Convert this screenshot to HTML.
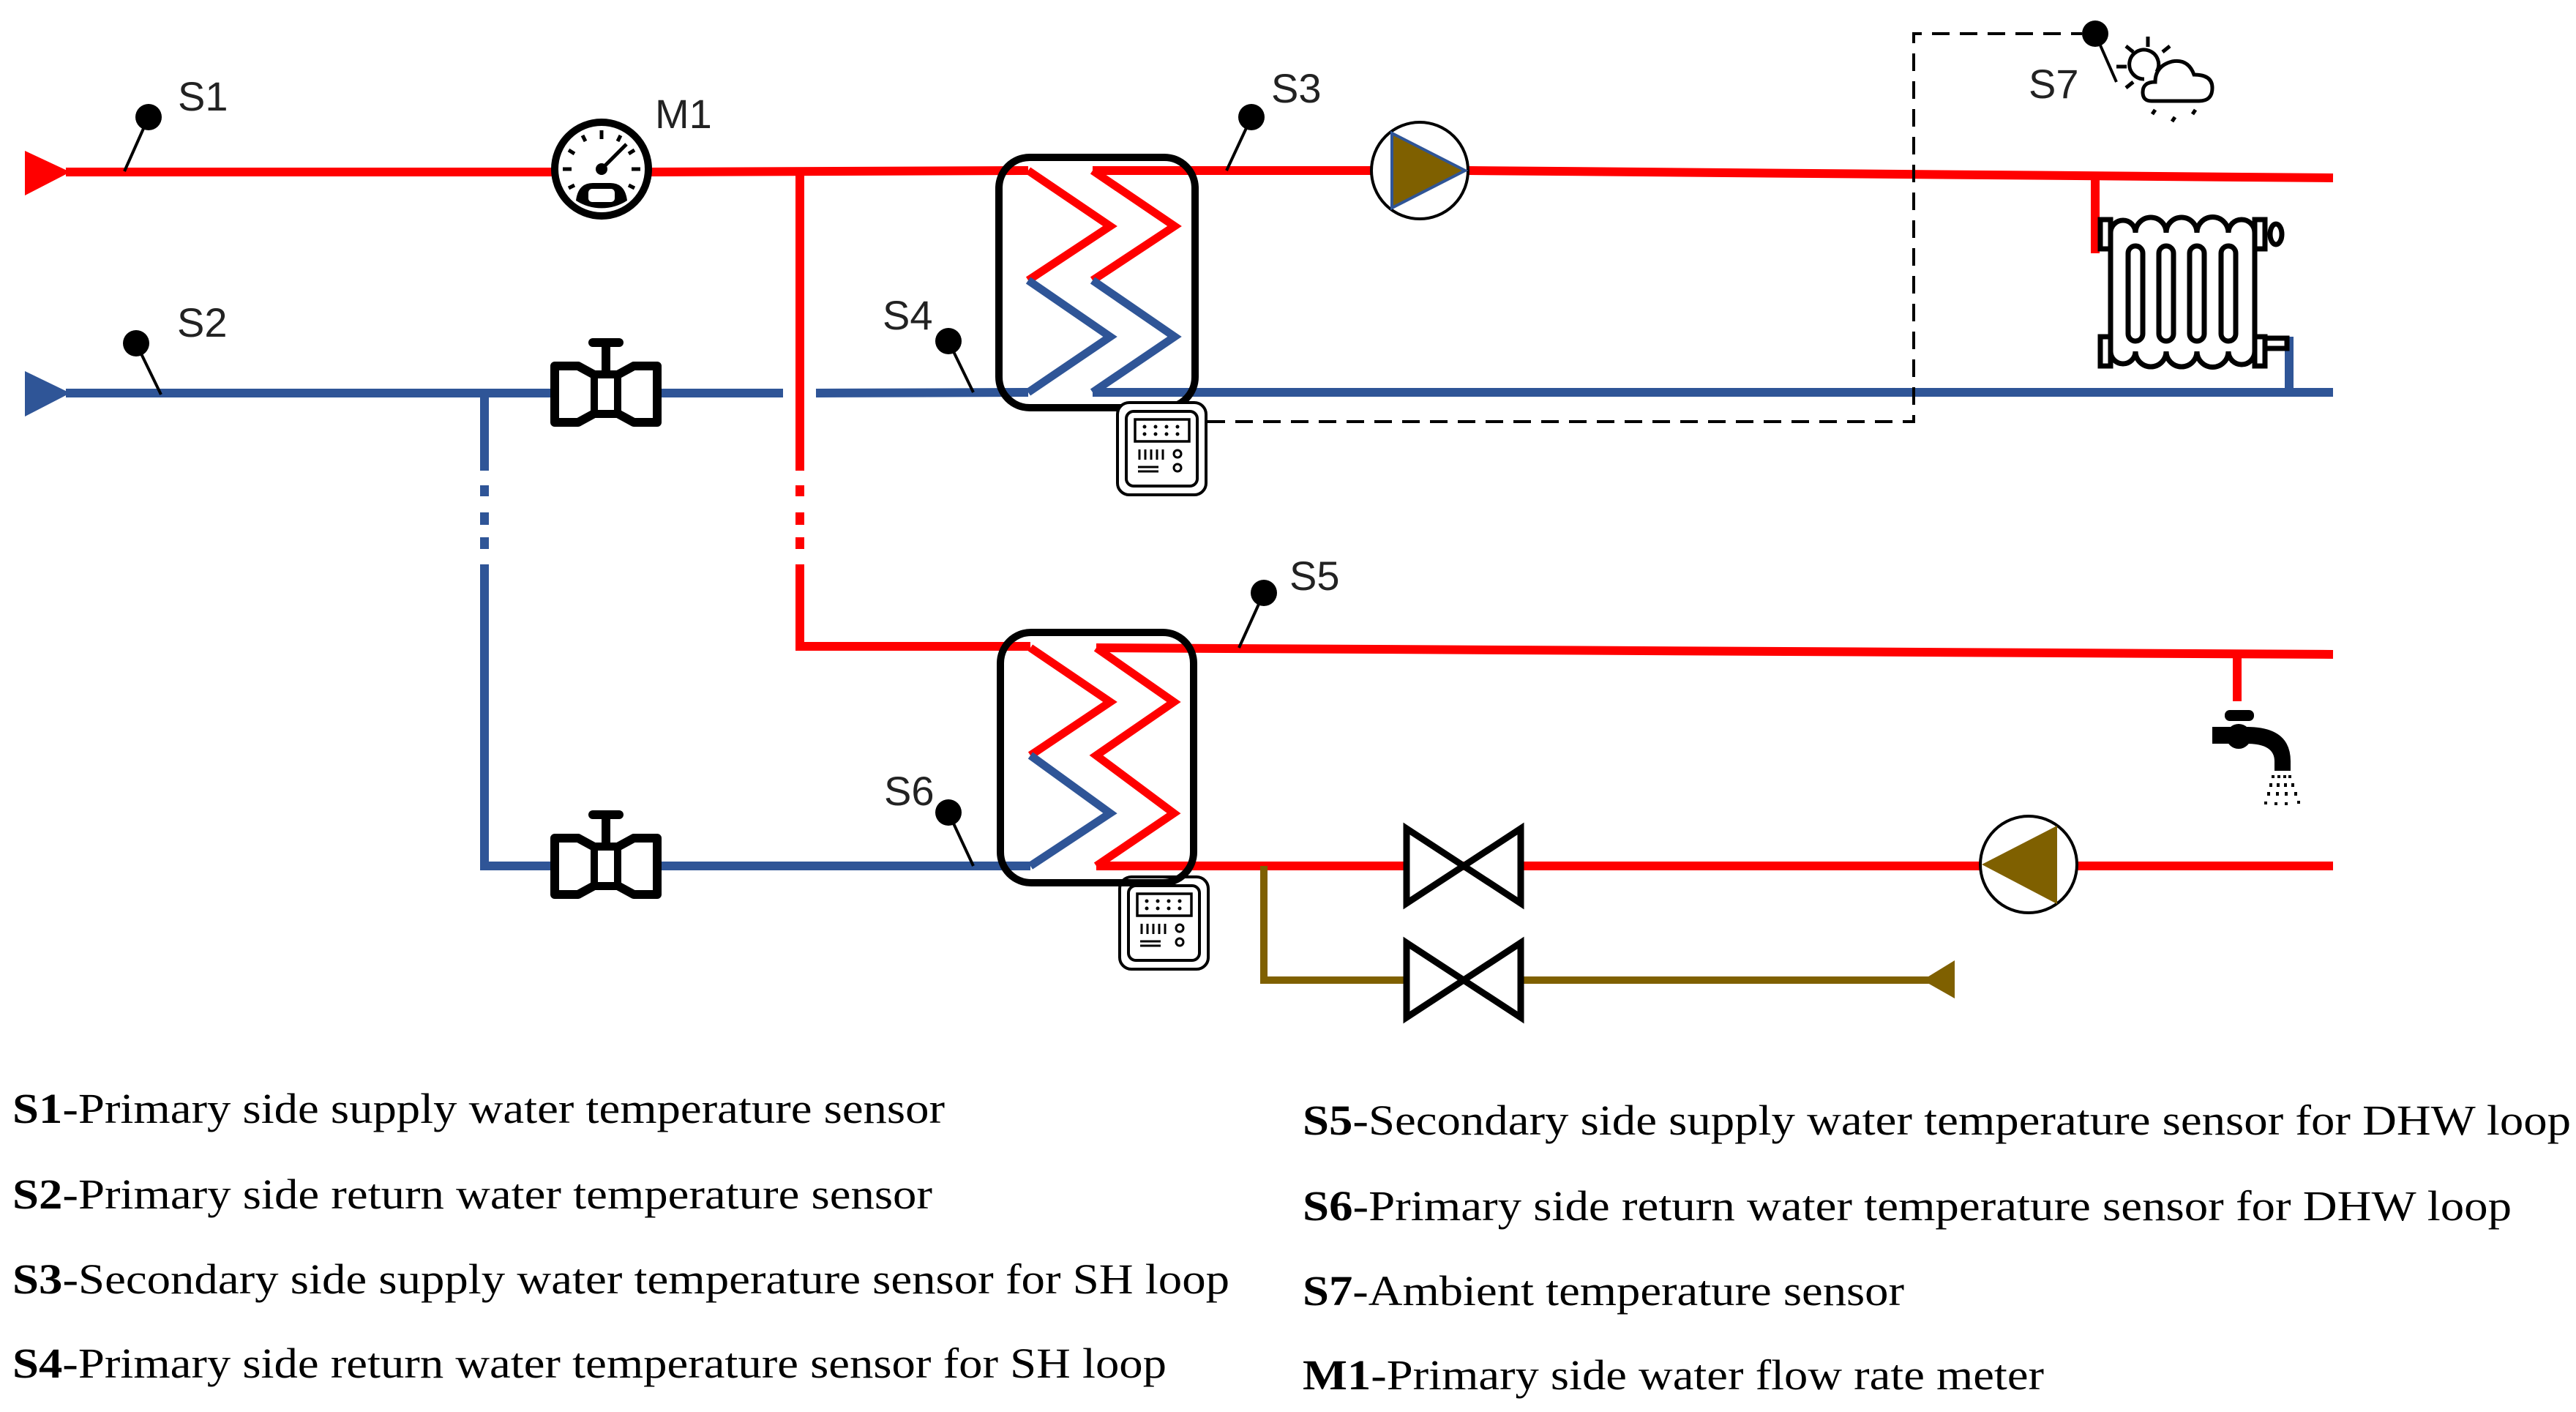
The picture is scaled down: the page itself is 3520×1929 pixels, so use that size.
<!DOCTYPE html>
<html><head><meta charset="utf-8"><style>html,body{margin:0;padding:0;background:#fff}svg{display:block}</style></head>
<body>
<svg xmlns="http://www.w3.org/2000/svg" width="3520" height="1929" viewBox="0 0 3520 1929">
<rect width="3520" height="1929" fill="#fff"/>
<defs>
<g id="valve">
  <polygon points="758,500 790,500 812,512 844,512 866,500 898,500 898,577 866,577 844,565 812,565 790,577 758,577" fill="#fff" stroke="#000" stroke-width="12" stroke-linejoin="round"/>
  <rect x="812" y="512" width="32" height="53" fill="#fff" stroke="#000" stroke-width="10"/>
  <rect x="822" y="468" width="12" height="44" fill="#000"/>
  <rect x="804" y="462" width="48" height="12" rx="6" fill="#000"/>
</g>
<g id="ctrl">
  <rect x="4" y="4" width="121" height="126" rx="16" fill="#fff" stroke="#000" stroke-width="4"/>
  <rect x="16" y="16" width="97" height="102" rx="10" fill="none" stroke="#000" stroke-width="4"/>
  <rect x="28" y="27" width="74" height="30" fill="none" stroke="#000" stroke-width="3.5"/>
  <g fill="#000"><circle cx="41" cy="37" r="2.5"/><circle cx="56" cy="37" r="2.5"/><circle cx="71" cy="37" r="2.5"/><circle cx="86" cy="37" r="2.5"/><circle cx="41" cy="47" r="2.5"/><circle cx="56" cy="47" r="2.5"/><circle cx="71" cy="47" r="2.5"/><circle cx="86" cy="47" r="2.5"/></g>
  <g stroke="#000" stroke-width="3"><line x1="34" y1="68" x2="34" y2="82"/><line x1="42" y1="68" x2="42" y2="82"/><line x1="50" y1="68" x2="50" y2="82"/><line x1="58" y1="68" x2="58" y2="82"/><line x1="66" y1="68" x2="66" y2="82"/><line x1="32" y1="92" x2="60" y2="92"/><line x1="32" y1="98" x2="60" y2="98"/></g>
  <circle cx="86" cy="74" r="5" fill="none" stroke="#000" stroke-width="3"/>
  <circle cx="86" cy="93" r="5" fill="none" stroke="#000" stroke-width="3"/>
</g>
<g id="bowtie">
  <polygon points="0,0 156,102 156,0 0,102" fill="#fff" stroke="#000" stroke-width="9" stroke-linejoin="miter"/>
</g>
</defs>

<!-- primary supply -->
<line x1="90" y1="235" x2="754" y2="235" stroke="#f00" stroke-width="12"/>
<polygon points="34,206 96,235 34,267" fill="#f00"/>
<line x1="890" y1="235" x2="1405" y2="233" stroke="#f00" stroke-width="12"/>
<!-- red vertical branch -->
<path d="M1093,235 V643 M1093,663 V678 M1093,700 V717 M1093,734 V750 M1093,771 V883 H1408" fill="none" stroke="#f00" stroke-width="12"/>
<!-- primary return -->
<line x1="90" y1="537" x2="760" y2="537" stroke="#2f5597" stroke-width="12"/>
<polygon points="34,507 96,537 34,569" fill="#2f5597"/>
<line x1="898" y1="537" x2="1070" y2="537" stroke="#2f5597" stroke-width="12"/>
<line x1="1115" y1="537" x2="1405" y2="536" stroke="#2f5597" stroke-width="12"/>
<path d="M662,537 V643 M662,663 V678 M662,700 V717 M662,734 V750 M662,771 V1183 H1408" fill="none" stroke="#2f5597" stroke-width="12"/>

<!-- HX1 zigzags -->
<polyline points="1405,233 1517,309 1405,383" fill="none" stroke="#f00" stroke-width="11"/>
<polyline points="1405,383 1517,460 1405,536" fill="none" stroke="#2f5597" stroke-width="11"/>
<polyline points="1493,233 1605,309 1493,383" fill="none" stroke="#f00" stroke-width="11"/>
<polyline points="1493,383 1605,460 1493,536" fill="none" stroke="#2f5597" stroke-width="11"/>
<line x1="1493" y1="233" x2="1902" y2="233" stroke="#f00" stroke-width="12"/>
<line x1="1493" y1="536" x2="3188" y2="536" stroke="#2f5597" stroke-width="12"/>
<rect x="1365" y="215" width="268" height="342" rx="42" fill="none" stroke="#000" stroke-width="10"/>

<!-- secondary SH supply -->
<line x1="2006" y1="233" x2="3188" y2="243" stroke="#f00" stroke-width="12"/>
<circle cx="1940" cy="233" r="66" fill="#fff" stroke="#000" stroke-width="4"/>
<polygon points="1902,182 2002,233 1902,284" fill="#7f6000" stroke="#2f5597" stroke-width="4"/>

<!-- radiator -->
<path d="M2863,241 V346" stroke="#f00" stroke-width="12"/>
<path d="M3128,536 V466 H3095" fill="none" stroke="#2f5597" stroke-width="12"/>
<g fill="#fff" stroke="#000" stroke-width="7">
<rect x="2870" y="300" width="14" height="40"/><rect x="2870" y="460" width="14" height="40"/>
<rect x="3081" y="300" width="14" height="40"/><rect x="3081" y="460" width="14" height="40"/>
<rect x="3095" y="462" width="30" height="14"/>
<ellipse cx="3110" cy="320" rx="8" ry="14"/>
<path d="M2884,480 V318 A17,17 0 0 1 2918,318 A21,21 0 0 1 2960,318 A21,21 0 0 1 3002,318 A21,21 0 0 1 3045,318 A18,18 0 0 1 3081,318 V480 A18,18 0 0 1 3045,480 A21,21 0 0 1 3002,480 A21,21 0 0 1 2960,480 A21,21 0 0 1 2918,480 A17,17 0 0 1 2884,480 Z"/>
<rect x="2908" y="336" width="20" height="130" rx="10"/><rect x="2950" y="336" width="20" height="130" rx="10"/>
<rect x="2992" y="336" width="20" height="130" rx="10"/><rect x="3035" y="336" width="20" height="130" rx="10"/>
</g>

<!-- dashed control line -->
<path d="M1650,576 H2615 V46 H2845" fill="none" stroke="#000" stroke-width="4" stroke-dasharray="24,14"/>

<!-- controllers -->
<g transform="translate(1523,546)"><use href="#ctrl"/></g>
<g transform="translate(1526,1194)"><use href="#ctrl"/></g>

<!-- HX2 -->
<polyline points="1408,885 1517,959 1408,1032" fill="none" stroke="#f00" stroke-width="11"/>
<polyline points="1408,1032 1517,1111 1408,1183" fill="none" stroke="#2f5597" stroke-width="11"/>
<polyline points="1498,885 1604,959 1498,1032 1604,1111 1498,1183" fill="none" stroke="#f00" stroke-width="11"/>
<line x1="1498" y1="885" x2="3188" y2="894" stroke="#f00" stroke-width="12"/>
<line x1="1498" y1="1183" x2="3188" y2="1183" stroke="#f00" stroke-width="12"/>
<rect x="1367" y="864" width="264" height="342" rx="42" fill="none" stroke="#000" stroke-width="10"/>

<!-- brown bypass -->
<path d="M1727,1183 V1339 H2640" fill="none" stroke="#7f6000" stroke-width="10"/>
<polygon points="2627,1339 2671,1312 2671,1364" fill="#7f6000"/>
<g transform="translate(1922,1132)"><use href="#bowtie"/></g>
<g transform="translate(1922,1288)"><use href="#bowtie"/></g>

<!-- pump bottom -->
<circle cx="2772" cy="1181" r="66" fill="#fff" stroke="#000" stroke-width="4"/>
<polygon points="2708,1181 2811,1128 2811,1235" fill="#7f6000"/>

<!-- tap -->
<line x1="3057" y1="894" x2="3057" y2="958" stroke="#f00" stroke-width="12"/>
<rect x="3040" y="970" width="40" height="15" rx="7" fill="#000"/>
<rect x="3023" y="993" width="50" height="23" fill="#000"/>
<circle cx="3059" cy="1006" r="17" fill="#000"/>
<path d="M3070,993 Q3130,993 3130,1040 V1053 H3108 V1040 Q3108,1016 3070,1016 Z" fill="#000"/>
<g fill="#000"><rect x="3104" y="1059" width="4" height="4"/><rect x="3112" y="1059" width="4" height="4"/><rect x="3120" y="1059" width="4" height="4"/><rect x="3127" y="1059" width="4" height="4"/>
<rect x="3101" y="1070" width="4" height="5"/><rect x="3111" y="1070" width="4" height="5"/><rect x="3121" y="1070" width="4" height="5"/><rect x="3131" y="1070" width="4" height="5"/>
<rect x="3098" y="1082" width="4" height="5"/><rect x="3110" y="1082" width="4" height="5"/><rect x="3122" y="1082" width="4" height="5"/><rect x="3135" y="1082" width="4" height="5"/>
<rect x="3094" y="1095" width="4" height="4"/><rect x="3108" y="1096" width="4" height="4"/><rect x="3122" y="1096" width="4" height="4"/><rect x="3139" y="1094" width="4" height="4"/></g>

<!-- valves -->
<use href="#valve"/>
<g transform="translate(0,645)"><use href="#valve"/></g>

<!-- M1 gauge -->
<circle cx="822" cy="231" r="64" fill="#fff" stroke="#000" stroke-width="10"/>
<path d="M787,274 Q790,250 810,250 H834 Q854,250 857,274 A64,64 0 0 1 787,274 Z" fill="#000"/>
<rect x="804" y="258" width="36" height="18" rx="5" fill="#fff"/>
<g stroke="#000" stroke-width="5"><line x1="822" y1="178" x2="822" y2="190"/><line x1="769" y1="231" x2="781" y2="231"/><line x1="863" y1="231" x2="875" y2="231"/><line x1="796" y1="185" x2="800" y2="193"/><line x1="848" y1="185" x2="844" y2="193"/><line x1="777" y1="205" x2="785" y2="210"/><line x1="867" y1="205" x2="859" y2="210"/><line x1="777" y1="257" x2="785" y2="253"/><line x1="867" y1="257" x2="859" y2="253"/></g>
<line x1="822" y1="231" x2="856" y2="197" stroke="#000" stroke-width="5"/>
<circle cx="822" cy="231" r="8" fill="#000"/>

<!-- sensors -->
<g stroke="#000" stroke-width="4">
<line x1="203" y1="160" x2="170" y2="234"/><line x1="186" y1="469" x2="220" y2="539"/>
<line x1="1710" y1="160" x2="1676" y2="233"/><line x1="1296" y1="466" x2="1330" y2="536"/>
<line x1="1727" y1="810" x2="1693" y2="885"/><line x1="1296" y1="1110" x2="1330" y2="1183"/>
<line x1="2863" y1="46" x2="2892" y2="112"/>
</g>
<g fill="#000">
<circle cx="203" cy="160" r="18"/><circle cx="186" cy="469" r="18"/><circle cx="1710" cy="160" r="18"/><circle cx="1296" cy="466" r="18"/><circle cx="1727" cy="810" r="18"/><circle cx="1296" cy="1110" r="18"/><circle cx="2863" cy="46" r="18"/>
</g>

<!-- weather icon -->
<g fill="none" stroke="#000" stroke-width="5">
<path d="M2947,98 A20,20 0 1 0 2930,108"/>
<line x1="2935" y1="50" x2="2935" y2="64"/><line x1="2905" y1="63" x2="2915" y2="71"/><line x1="2965" y1="63" x2="2955" y2="71"/><line x1="2892" y1="91" x2="2906" y2="91"/><line x1="2905" y1="120" x2="2915" y2="112"/>
<path d="M2940,138 Q2928,138 2928,126 Q2928,112 2945,112 Q2945,90 2968,84 Q2990,80 2998,102 Q3023,102 3023,120 Q3023,138 3005,138 Z"/>
<line x1="2945" y1="150" x2="2941" y2="156"/><line x1="2972" y1="160" x2="2968" y2="166"/><line x1="3000" y1="150" x2="2996" y2="156"/>
</g>

<!-- labels -->
<g font-family="'Liberation Sans', sans-serif" font-size="56" fill="#222">
<text x="243" y="151">S1</text>
<text x="242" y="460">S2</text>
<text x="895" y="175">M1</text>
<text x="1737" y="140">S3</text>
<text x="1206" y="450">S4</text>
<text x="1762" y="806">S5</text>
<text x="1208" y="1100">S6</text>
<text x="2772" y="134">S7</text>
</g>
<g font-family="'Liberation Serif', serif" font-size="58" fill="#000">
<text x="17" y="1534" textLength="1274" lengthAdjust="spacingAndGlyphs"><tspan font-weight="bold">S1</tspan>-Primary side supply water temperature sensor</text>
<text x="17" y="1651" textLength="1257" lengthAdjust="spacingAndGlyphs"><tspan font-weight="bold">S2</tspan>-Primary side return water temperature sensor</text>
<text x="17" y="1767" textLength="1663" lengthAdjust="spacingAndGlyphs"><tspan font-weight="bold">S3</tspan>-Secondary side supply water temperature sensor for SH loop</text>
<text x="17" y="1882" textLength="1577" lengthAdjust="spacingAndGlyphs"><tspan font-weight="bold">S4</tspan>-Primary side return water temperature sensor for SH loop</text>
<text x="1780" y="1550" textLength="1733" lengthAdjust="spacingAndGlyphs"><tspan font-weight="bold">S5</tspan>-Secondary side supply water temperature sensor for DHW loop</text>
<text x="1780" y="1667" textLength="1652" lengthAdjust="spacingAndGlyphs"><tspan font-weight="bold">S6</tspan>-Primary side return water temperature sensor for DHW loop</text>
<text x="1780" y="1783" textLength="822" lengthAdjust="spacingAndGlyphs"><tspan font-weight="bold">S7</tspan>-Ambient temperature sensor</text>
<text x="1780" y="1898" textLength="1013" lengthAdjust="spacingAndGlyphs"><tspan font-weight="bold">M1</tspan>-Primary side water flow rate meter</text>
</g>
</svg>
</body></html>
